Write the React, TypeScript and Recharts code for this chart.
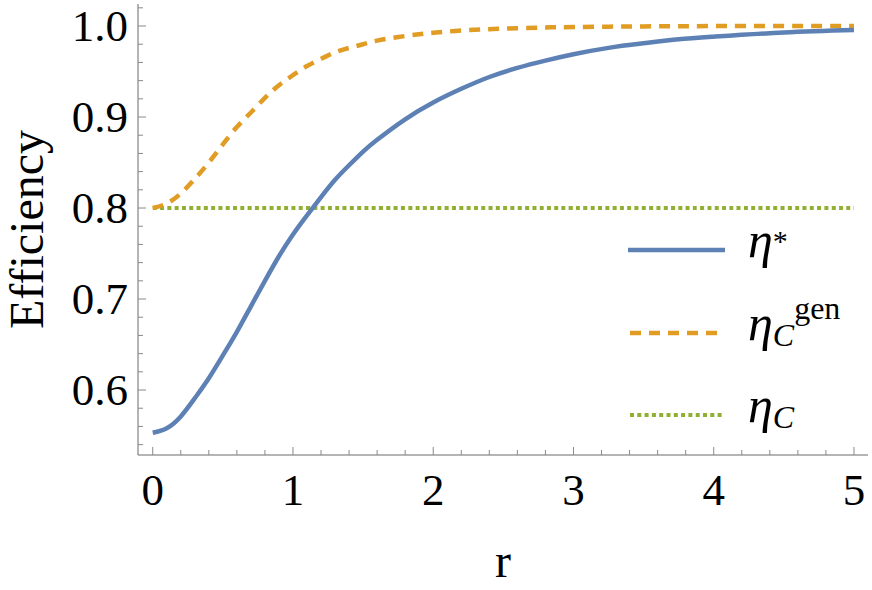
import React from 'react';
import { LineChart, Line, XAxis, YAxis, Legend } from 'recharts';

// r sample points
const rValues = [0, 0.1, 0.2, 0.3, 0.4, 0.5, 0.6, 0.7, 0.8, 0.9, 1.0, 1.1, 1.2, 1.3, 1.4, 1.5, 1.6, 1.8, 2.0, 2.2, 2.4, 2.6, 2.8, 3.0, 3.25, 3.5, 3.75, 4.0, 4.5, 5.0];
// eta* (solid blue)
const etaStar = [0.553, 0.558, 0.571, 0.591, 0.613, 0.638, 0.664, 0.692, 0.72, 0.747, 0.771, 0.792, 0.812, 0.831, 0.847, 0.862, 0.875, 0.8975, 0.916, 0.931, 0.944, 0.954, 0.962, 0.969, 0.976, 0.981, 0.9854, 0.9883, 0.9929, 0.9956];
// eta_C^gen (dashed orange)
const etaCGen = [0.8, 0.805, 0.816, 0.832, 0.85, 0.87, 0.889, 0.905, 0.921, 0.935, 0.946, 0.956, 0.964, 0.971, 0.976, 0.98, 0.984, 0.989, 0.9925, 0.995, 0.9965, 0.9976, 0.9984, 0.9989, 0.9993, 0.9996, 0.9998, 0.9999, 1.0, 1.0];
// eta_C (dotted green)
const etaC = [0.8, 0.8, 0.8, 0.8, 0.8, 0.8, 0.8, 0.8, 0.8, 0.8, 0.8, 0.8, 0.8, 0.8, 0.8, 0.8, 0.8, 0.8, 0.8, 0.8, 0.8, 0.8, 0.8, 0.8, 0.8, 0.8, 0.8, 0.8, 0.8, 0.8];

const xTicks = [0, 0.2, 0.4, 0.6, 0.8, 1, 1.2, 1.4, 1.6, 1.8, 2, 2.2, 2.4, 2.6, 2.8, 3, 3.2, 3.4, 3.6, 3.8, 4, 4.2, 4.4, 4.6, 4.8, 5];
const xMajor = [0, 1, 2, 3, 4, 5];
const xLabels = ['0', '1', '2', '3', '4', '5'];
const yTicks = [0.54, 0.56, 0.58, 0.6, 0.62, 0.64, 0.66, 0.68, 0.7, 0.72, 0.74, 0.76, 0.78, 0.8, 0.82, 0.84, 0.86, 0.88, 0.9, 0.92, 0.94, 0.96, 0.98, 1.0, 1.02];
const yMajor = [0.6, 0.7, 0.8, 0.9, 1.0];
const yLabels = ['0.6', '0.7', '0.8', '0.9', '1.0'];

const data = rValues.map((r, i) => ({ r, etaStar: etaStar[i], etaCGen: etaCGen[i], etaC: etaC[i] }));

const BLUE = '#5E81B5';
const ORANGE = '#E19C24';
const GREEN = '#8FB032';
const AXIS = '#6a6a6a';
const TICK = '#8a8a8a';
const SERIF = { fontFamily: "'Liberation Serif', 'Times New Roman', Times, serif" };

const isMajor = (v: number, majors: number[]) => majors.findIndex((m) => Math.abs(m - v) < 1e-6);

const BottomTick = (props: any) => {
  const { x, y, payload } = props;
  const idx = isMajor(payload.value, xMajor);
  return (
    <g>
      <line x1={x} x2={x} y1={y} y2={y - (idx >= 0 ? 8 : 5)} stroke={TICK} strokeWidth={1} />
      {idx >= 0 && (
        <text x={x} y={y + 50} textAnchor="middle" style={{ ...SERIF, fontSize: 45 }} fill="#000">
          {xLabels[idx]}
        </text>
      )}
    </g>
  );
};
const TopTick = (props: any) => {
  const { x, y, payload } = props;
  const idx = isMajor(payload.value, xMajor);
  return <line x1={x} x2={x} y1={y} y2={y + (idx >= 0 ? 8 : 5)} stroke={TICK} strokeWidth={1} />;
};
const LeftTick = (props: any) => {
  const { x, y, payload } = props;
  const idx = isMajor(payload.value, yMajor);
  return (
    <g>
      <line x1={x} x2={x + (idx >= 0 ? 8 : 5)} y1={y} y2={y} stroke={TICK} strokeWidth={1} />
      {idx >= 0 && (
        <text x={x - 10} y={y + 15} textAnchor="end" style={{ ...SERIF, fontSize: 45 }} fill="#000">
          {yLabels[idx]}
        </text>
      )}
    </g>
  );
};
const RightTick = (props: any) => {
  const { x, y, payload } = props;
  const idx = isMajor(payload.value, yMajor);
  return <line x1={x} x2={x - (idx >= 0 ? 8 : 5)} y1={y} y2={y} stroke={TICK} strokeWidth={1} />;
};

const XLabel = (props: any) => {
  const vb = props.viewBox;
  return (
    <text x={vb.x + vb.width / 2} y={vb.y + 122} textAnchor="middle" style={{ ...SERIF, fontSize: 48 }} fill="#000">
      r
    </text>
  );
};
const YLabel = (props: any) => {
  const vb = props.viewBox;
  const cx = vb.x + 43;
  const cy = vb.y + vb.height / 2;
  return (
    <text x={cx} y={cy} transform={`rotate(-90 ${cx} ${cy})`} textAnchor="middle" style={{ ...SERIF, fontSize: 48 }} fill="#000">
      Efficiency
    </text>
  );
};

const LegendContent = () => (
  <svg width={250} height={240} style={{ overflow: 'visible', display: 'block' }}>
    <line x1={8} x2={105} y1={40} y2={40} stroke={BLUE} strokeWidth={4.5} />
    <text x={128} y={47} style={{ ...SERIF, fontSize: 50, fontStyle: 'italic' }} fill="#000">
      η<tspan style={{ fontStyle: 'normal', fontSize: 30 }} dy={-6}>*</tspan>
    </text>
    <line x1={10} x2={97} y1={123} y2={123} stroke={ORANGE} strokeWidth={4.5} strokeDasharray="11 8" />
    <text x={128} y={130} style={{ ...SERIF, fontSize: 50, fontStyle: 'italic' }} fill="#000">
      η<tspan style={{ fontSize: 32 }} dy={6}>C</tspan><tspan style={{ fontStyle: 'normal', fontSize: 32 }} dy={-27}>gen</tspan>
    </text>
    <line x1={10} x2={102} y1={205} y2={205} stroke={GREEN} strokeWidth={4} strokeDasharray="4 3.3" />
    <text x={128} y={212} style={{ ...SERIF, fontSize: 50, fontStyle: 'italic' }} fill="#000">
      η<tspan style={{ fontSize: 32 }} dy={6}>C</tspan>
    </text>
  </svg>
);

export default function App() {
  return (
    <div style={{ position: 'absolute', left: 0, top: 0, width: 872, height: 590, background: '#fff' }}>
      <LineChart width={872} height={590} data={data} margin={{ top: 4, right: 4, left: 0, bottom: 0 }}>
        <XAxis
          dataKey="r"
          type="number"
          domain={[-0.105, 5.1]}
          ticks={xTicks}
          interval={0}
          allowDataOverflow
          height={135}
          tickSize={0}
          tickMargin={0}
          tickLine={false}
          axisLine={{ stroke: AXIS, strokeWidth: 1 }}
          tick={<BottomTick />}
          label={<XLabel />}
        />
        <XAxis
          xAxisId="top"
          orientation="top"
          dataKey="r"
          type="number"
          domain={[-0.105, 5.1]}
          ticks={xTicks}
          interval={0}
          allowDataOverflow
          height={0}
          tickSize={0}
          tickMargin={0}
          tickLine={false}
          axisLine={{ stroke: AXIS, strokeWidth: 1 }}
          tick={<TopTick />}
        />
        <YAxis
          type="number"
          domain={[0.5286, 1.0242]}
          ticks={yTicks}
          interval={0}
          allowDataOverflow
          width={138}
          tickSize={0}
          tickMargin={0}
          tickLine={false}
          axisLine={{ stroke: AXIS, strokeWidth: 1 }}
          tick={<LeftTick />}
          label={<YLabel />}
        />
        <YAxis
          yAxisId="right"
          orientation="right"
          type="number"
          domain={[0.5286, 1.0242]}
          ticks={yTicks}
          interval={0}
          allowDataOverflow
          width={0}
          tickSize={0}
          tickMargin={0}
          tickLine={false}
          axisLine={{ stroke: AXIS, strokeWidth: 1 }}
          tick={<RightTick />}
        />
        <Line type="natural" dataKey="etaC" stroke={GREEN} strokeWidth={4} strokeDasharray="4 3.3" dot={false} activeDot={false} isAnimationActive={false} />
        <Line type="natural" dataKey="etaCGen" stroke={ORANGE} strokeWidth={4.5} strokeDasharray="11 8" dot={false} activeDot={false} isAnimationActive={false} />
        <Line type="natural" dataKey="etaStar" stroke={BLUE} strokeWidth={4.5} dot={false} activeDot={false} isAnimationActive={false} />
        <Legend
          layout="horizontal"
          verticalAlign="middle"
          align="center"
          content={<LegendContent />}
          wrapperStyle={{ position: 'absolute', left: 620, top: 210, width: 250, height: 240 }}
        />
      </LineChart>
    </div>
  );
}
